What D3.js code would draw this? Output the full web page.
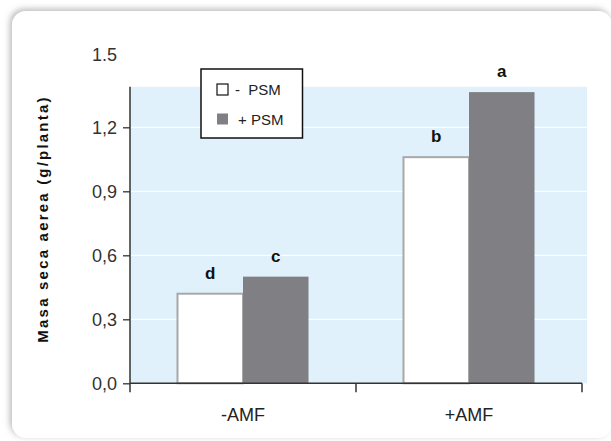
<!DOCTYPE html>
<html>
<head>
<meta charset="utf-8">
<script src="https://cdn.jsdelivr.net/npm/d3@7"></script>
<style>
  body { margin: 0; background: #fff; }
  text { font-family: "Liberation Sans", Arial, sans-serif; }
</style>
</head>
<body>
<script>
const w = 611;
const h = 441;

// data
const groups = ["-AMF", "+AMF"];
const series = ["- PSM", "+ PSM"];
const minusPSM = [0.42, 1.06];
const plusPSM = [0.5, 1.365];
const letters = [["d", "b"], ["c", "a"]];
const yTicks = [0, 0.3, 0.6, 0.9, 1.2];
const yTickLabels = ["0,0", "0,3", "0,6", "0,9", "1,2"];
const yTopLabel = "1.5";
const yTitle = "Masa seca aerea (g/planta)";
const seriesColors = ["#ffffff", "#808084"];

const values = [minusPSM, plusPSM];

const svg = d3.select("body").append("svg").attr("width", w).attr("height", h);

// card with soft shadow
const defs = svg.append("defs");
const f = defs.append("filter").attr("id", "sh")
  .attr("x", -0.05).attr("y", -0.05).attr("width", 1.1).attr("height", 1.1);
f.append("feDropShadow").attr("dx", -2).attr("dy", -2)
  .attr("stdDeviation", 3).attr("flood-color", "#888").attr("flood-opacity", 0.6);

svg.append("rect")
  .attr("x", 12).attr("y", 11).attr("width", 600).attr("height", 427)
  .attr("rx", 14).attr("fill", "#fff").attr("filter", "url(#sh)");

// scales
const y = d3.scaleLinear().domain([0, 1.5]).range([383.3, 63.3]);
const x0 = d3.scaleBand().domain(groups).range([130, 582]).paddingInner(0);
const x1 = d3.scaleBand().domain(series).range([0, x0.bandwidth()])
  .paddingInner(0).paddingOuter(0.725);

// panel background
svg.append("rect")
  .attr("x", 130).attr("y", y(1.39))
  .attr("width", 587 - 130).attr("height", y(0) - y(1.39))
  .attr("fill", "#e0f1fb");

// white gridlines
svg.append("g").selectAll("line")
  .data(yTicks.slice(1))
  .join("line")
  .attr("x1", 130).attr("x2", 587)
  .attr("y1", (d) => y(d)).attr("y2", (d) => y(d))
  .attr("stroke", "#fff").attr("stroke-width", 1.2);

// bars
const g = svg.append("g");
series.forEach((s, si) => {
  g.selectAll(".bar" + si)
    .data(values[si])
    .join("rect")
    .attr("x", (d, i) => x0(groups[i]) + x1(s))
    .attr("y", (d) => y(d))
    .attr("width", x1.bandwidth())
    .attr("height", (d) => y(0) - y(d))
    .attr("fill", seriesColors[si])
    .attr("stroke", si == 0 ? "#a8a8a8" : "none")
    .attr("stroke-width", 2);

  g.selectAll(".lab" + si)
    .data(values[si])
    .join("text")
    .attr("x", (d, i) => x0(groups[i]) + x1(s) + x1.bandwidth() / 2)
    .attr("y", (d) => y(d) - 15)
    .attr("text-anchor", "middle")
    .attr("font-size", 17)
    .attr("font-weight", "bold")
    .attr("fill", "#111")
    .text((d, i) => letters[si][i]);
});

// y axis
const yAxis = svg.append("g")
  .attr("transform", "translate(130,0)")
  .call(d3.axisLeft(y).tickValues(yTicks)
    .tickFormat((d, i) => yTickLabels[i]).tickSize(7).tickSizeOuter(0));
yAxis.select(".domain").remove();
yAxis.append("line")
  .attr("x1", 0).attr("x2", 0)
  .attr("y1", y(1.39)).attr("y2", y(0) + 9)
  .attr("stroke", "#333").attr("stroke-width", 1.5);
yAxis.selectAll(".tick line").attr("stroke", "#333").attr("stroke-width", 1.3);
yAxis.selectAll(".tick text")
  .attr("x", -13)
  .attr("font-size", 18)
  .attr("fill", "#333")
  .attr("font-family", "Liberation Sans, Arial, sans-serif");

svg.append("text")
  .attr("x", 117).attr("y", y(1.5) - 2)
  .attr("text-anchor", "end")
  .attr("font-size", 18).attr("fill", "#333")
  .text(yTopLabel);

// x axis
const xAxis = svg.append("g")
  .attr("transform", `translate(0,${y(0)})`);
xAxis.append("line")
  .attr("x1", 130).attr("x2", 582)
  .attr("stroke", "#333").attr("stroke-width", 1.5);
xAxis.selectAll(".xt")
  .data(groups)
  .join("line")
  .attr("x1", (d) => x0(d) + x0.bandwidth()).attr("x2", (d) => x0(d) + x0.bandwidth())
  .attr("y1", 0).attr("y2", 9)
  .attr("stroke", "#333").attr("stroke-width", 1.5);
xAxis.selectAll(".xl")
  .data(groups)
  .join("text")
  .attr("x", (d) => x0(d) + x0.bandwidth() / 2)
  .attr("y", 38)
  .attr("text-anchor", "middle")
  .attr("font-size", 18)
  .attr("fill", "#222")
  .text((d) => d);

// y title
svg.append("text")
  .attr("transform", "translate(48,219) rotate(-90)")
  .attr("text-anchor", "middle")
  .attr("font-size", 15)
  .attr("font-weight", "bold")
  .attr("letter-spacing", 2.2)
  .attr("fill", "#111")
  .text(yTitle);

// legend
const leg = svg.append("g").attr("transform", "translate(201,69)");
leg.append("rect")
  .attr("width", 101.5).attr("height", 69)
  .attr("fill", "#fff").attr("stroke", "#111").attr("stroke-width", 1.5);
series.forEach((s, i) => {
  leg.append("rect")
    .attr("x", 16).attr("y", 15 + i * 29.5)
    .attr("width", 11).attr("height", 11)
    .attr("fill", seriesColors[i])
    .attr("stroke", i == 0 ? "#111" : "none")
    .attr("stroke-width", 1.2);
  leg.append("text")
    .attr("x", i == 0 ? 34 : 37).attr("y", 26 + i * 29.5)
    .attr("font-size", 15)
    .attr("fill", "#222")
    .attr("xml:space", "preserve")
    .text(i == 0 ? "-  PSM" : "+ PSM");
});
</script>
</body>
</html>
